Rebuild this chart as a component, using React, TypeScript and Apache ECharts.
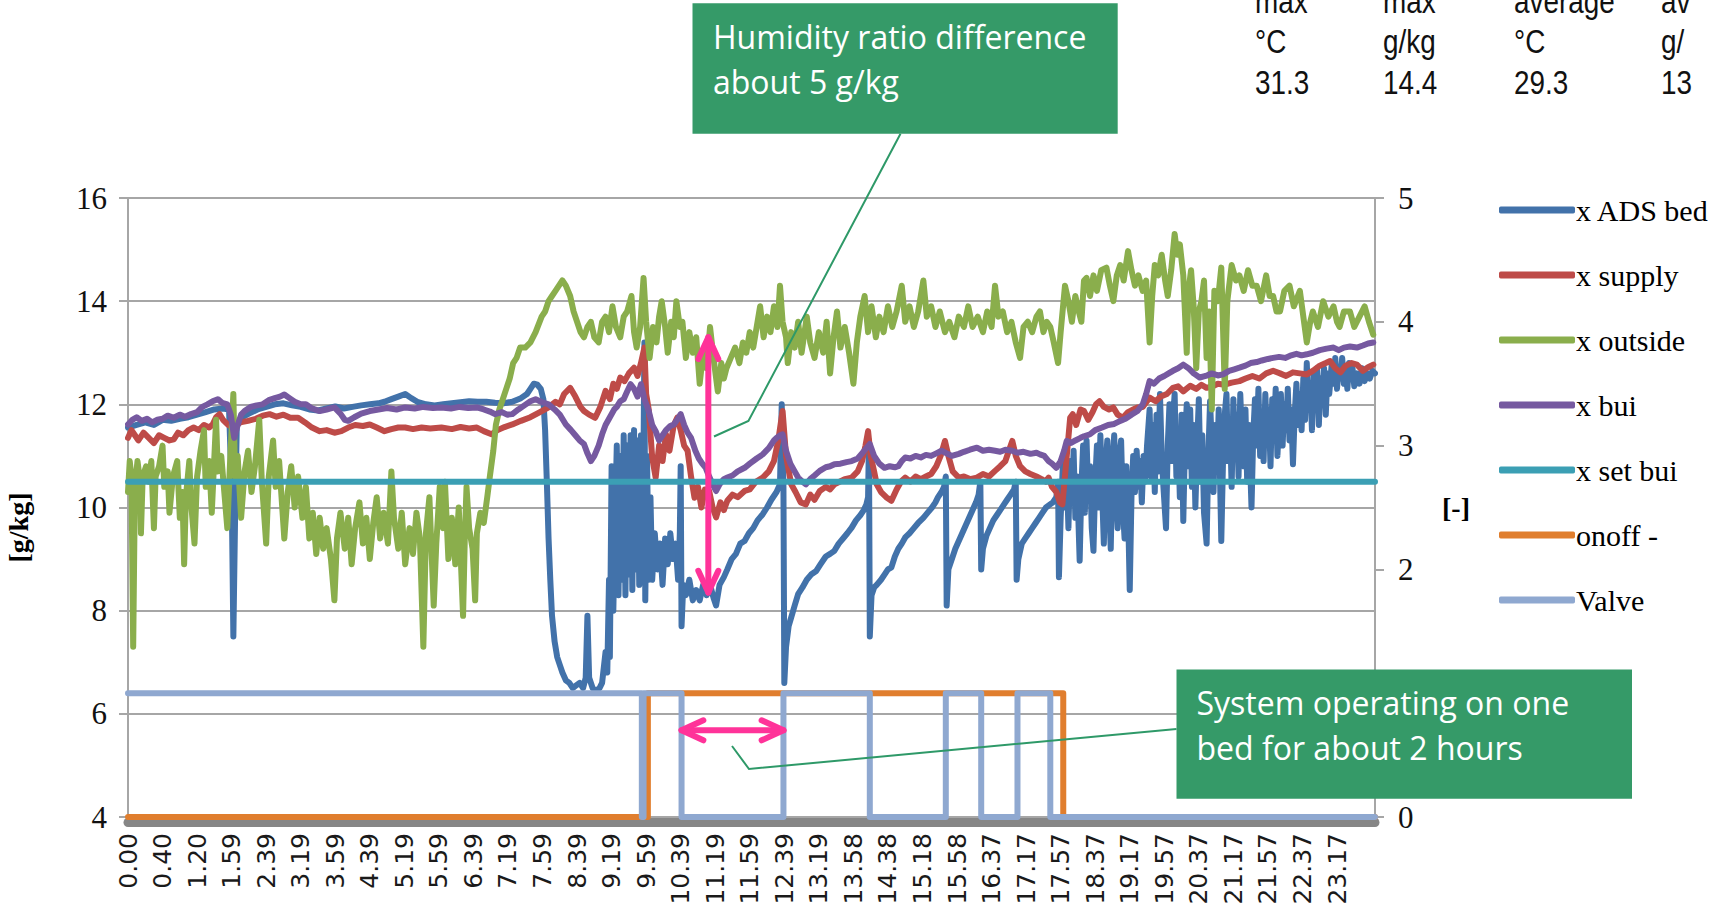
import React, { useEffect, useRef } from 'react';
import * as echarts from 'echarts';

// ---------- data (x = row index of the logged day, one row per minute) ----------
const TIME_LABELS = ['0.00','0.40','1.20','1.59','2.39','3.19','3.59','4.39','5.19','5.59','6.39','7.19','7.59','8.39','9.19','9.59','10.39','11.19','11.59','12.39','13.19','13.58','14.38','15.18','15.58','16.37','17.17','17.57','18.37','19.17','19.57','20.37','21.17','21.57','22.37','23.17'];
const LABEL_STEP = 40;
const ROW_MAX = 1444;

const SERIES_NAMES = ['x ADS bed','x supply','x outside','x bui','x set bui','onoff -','Valve'];
const SERIES_COLORS = ['#4272AA','#BE4B48','#8AAE4C','#7659A0','#3B9FB4','#E07E2E','#8FA8D0'];

const X_ADS_BED: [number, number][] = [[0,11.55],[10,11.6],[20,11.65],[30,11.6],[40,11.7],[50,11.68],[60,11.72],[70,11.75],[80,11.8],[90,11.85],[100,11.9],[110,11.92],[117,11.9],[120,10.4],[122,7.5],[124,9.8],[126,11.6],[132,11.75],[140,11.82],[150,11.9],[160,11.95],[170,12.0],[180,12.02],[190,11.98],[200,11.95],[210,11.9],[220,11.88],[230,11.92],[240,11.96],[250,11.92],[260,11.95],[270,11.98],[280,12.0],[290,12.02],[297,12.05],[305,12.1],[313,12.15],[321,12.2],[328,12.12],[335,12.05],[345,12.0],[355,11.98],[365,12.0],[375,12.02],[385,12.04],[395,12.06],[405,12.05],[415,12.05],[425,12.03],[435,12.02],[445,12.05],[455,12.12],[462,12.2],[466,12.3],[470,12.4],[474,12.38],[478,12.3],[481,12.1],[483,11.5],[485,10.5],[487,9.4],[489,8.6],[491,7.9],[494,7.4],[497,7.1],[500,6.95],[503,6.8],[507,6.65],[511,6.6],[515,6.5],[519,6.55],[523,6.6],[527,6.5],[530,6.7],[532,7.9],[534,6.7],[538,6.5],[542,6.45],[546,6.5],[549,6.6],[551,6.9],[553,7.2],[555,6.8],[557,8.6],[558,7.1],[560,10.8],[562,8.0],[564,9.7],[566,11.2],[568,8.3],[570,11.0],[572,8.6],[574,11.4],[576,8.3],[578,11.2],[580,8.7],[582,11.4],[584,8.4],[586,11.5],[588,8.8],[590,11.3],[592,8.5],[594,11.4],[596,9.0],[598,13.2],[599,8.2],[601,11.0],[603,8.6],[605,10.2],[607,8.6],[610,9.5],[613,8.8],[616,9.3],[619,8.5],[622,9.4],[625,8.9],[628,9.5],[631,9.0],[634,9.3],[637,8.6],[639,9.5],[640,10.8],[641,7.7],[643,8.5],[646,8.3],[650,8.6],[654,8.2],[658,8.4],[662,8.2],[666,8.5],[670,8.3],[674,8.5],[678,8.25],[681,8.1],[685,8.5],[690,8.65],[694,8.8],[699,9.0],[704,9.1],[709,9.3],[714,9.35],[719,9.5],[724,9.6],[729,9.75],[735,9.87],[740,10.0],[745,10.15],[751,10.3],[755,10.45],[757,12.0],[759,10.4],[760,6.6],[762,7.3],[765,7.7],[768,7.87],[772,8.1],[776,8.32],[781,8.45],[786,8.6],[791,8.7],[797,8.77],[802,8.9],[808,9.05],[813,9.1],[818,9.16],[823,9.3],[828,9.4],[833,9.5],[838,9.61],[843,9.75],[848,9.85],[852,9.95],[855,10.06],[857,10.2],[858,11.3],[859,7.5],[861,8.3],[864,8.45],[867,8.5],[872,8.6],[876,8.7],[880,8.8],[884,8.84],[888,9.05],[892,9.2],[896,9.3],[900,9.42],[905,9.5],[910,9.6],[915,9.7],[921,9.8],[926,9.9],[931,10.0],[935,10.1],[938,10.2],[942,10.3],[945,10.4],[947,10.6],[948,8.1],[950,8.8],[954,9.0],[958,9.2],[962,9.35],[966,9.5],[970,9.65],[974,9.8],[978,9.95],[982,10.1],[985,10.25],[987,10.5],[988,8.8],[990,9.2],[994,9.45],[998,9.6],[1002,9.75],[1006,9.85],[1010,9.95],[1014,10.05],[1018,10.15],[1022,10.25],[1026,10.35],[1028,10.5],[1029,8.6],[1031,9.0],[1035,9.3],[1039,9.4],[1043,9.5],[1047,9.6],[1051,9.7],[1055,9.8],[1059,9.9],[1063,10.0],[1067,10.05],[1071,10.1],[1075,10.2],[1077,10.5],[1078,8.65],[1080,9.8],[1083,11.0],[1085,10.0],[1087,10.7],[1089,9.6],[1091,10.9],[1093,10.1],[1095,11.1],[1097,9.8],[1099,10.6],[1102,8.97],[1104,10.4],[1106,11.2],[1108,9.9],[1110,11.3],[1112,10.2],[1114,10.8],[1116,9.6],[1118,9.16],[1120,10.5],[1122,11.2],[1124,10.0],[1126,11.4],[1128,10.3],[1130,9.3],[1132,10.8],[1134,11.3],[1136,10.1],[1138,9.2],[1140,10.9],[1142,11.4],[1144,10.3],[1146,9.6],[1148,11.0],[1150,11.3],[1152,10.0],[1154,9.4],[1156,10.8],[1158,10.0],[1160,8.4],[1162,10.2],[1164,11.0],[1166,10.3],[1168,11.1],[1170,10.4],[1172,10.9],[1174,10.1],[1176,11.0],[1178,10.5],[1180,11.2],[1183,11.9],[1185,10.6],[1187,11.6],[1189,10.3],[1191,11.8],[1193,10.7],[1195,12.2],[1197,11.0],[1199,10.4],[1202,9.6],[1204,11.2],[1206,12.0],[1208,10.9],[1210,11.7],[1212,12.2],[1214,10.6],[1216,11.5],[1218,10.2],[1220,11.8],[1222,9.74],[1224,11.3],[1226,12.0],[1228,10.8],[1230,11.9],[1232,10.4],[1234,11.6],[1236,10.0],[1238,11.2],[1240,12.1],[1242,10.5],[1244,11.4],[1246,9.9],[1249,9.3],[1251,11.0],[1253,12.06],[1255,11.2],[1257,10.3],[1259,11.6],[1261,10.7],[1263,11.9],[1266,9.35],[1268,10.9],[1270,11.8],[1272,12.2],[1274,10.9],[1276,11.7],[1278,10.4],[1280,12.1],[1282,11.0],[1284,11.8],[1286,10.6],[1288,12.2],[1290,11.3],[1292,10.8],[1294,11.9],[1296,10.5],[1298,11.6],[1301,10.0],[1303,11.4],[1305,12.1],[1307,11.2],[1309,12.3],[1311,11.0],[1313,11.8],[1315,10.9],[1317,12.2],[1319,11.3],[1321,11.9],[1323,10.8],[1325,12.1],[1327,11.4],[1329,12.3],[1331,11.0],[1333,11.7],[1335,12.2],[1337,11.2],[1339,12.0],[1341,11.5],[1343,12.3],[1345,11.3],[1347,11.9],[1349,10.84],[1351,11.8],[1353,12.4],[1355,11.6],[1357,12.2],[1359,11.5],[1361,12.5],[1363,11.7],[1365,12.8],[1367,11.9],[1369,12.4],[1371,11.5],[1373,12.6],[1375,12.0],[1377,12.7],[1379,11.6],[1381,12.5],[1383,12.1],[1385,12.7],[1387,11.8],[1389,12.6],[1391,12.2],[1394,12.8],[1396,12.4],[1398,12.9],[1400,12.3],[1402,12.7],[1404,12.5],[1406,12.9],[1408,12.4],[1410,12.6],[1412,12.3],[1414,12.8],[1416,12.5],[1418,12.7],[1420,12.35],[1423,12.6],[1426,12.4],[1429,12.7],[1432,12.45],[1435,12.6],[1438,12.5],[1441,12.65],[1444,12.6]];

const X_SUPPLY: [number, number][] = [[0,11.35],[4,11.5],[8,11.4],[12,11.3],[18,11.45],[24,11.35],[30,11.25],[36,11.4],[42,11.35],[48,11.3],[53,11.32],[58,11.45],[64,11.4],[70,11.5],[76,11.55],[82,11.5],[88,11.6],[94,11.55],[98,11.61],[102,11.75],[106,11.81],[110,11.7],[116,11.6],[123,11.55],[130,11.65],[139,11.68],[148,11.72],[156,11.78],[164,11.81],[172,11.76],[180,11.8],[188,11.74],[197,11.74],[205,11.65],[213,11.55],[222,11.48],[230,11.5],[239,11.45],[247,11.48],[255,11.55],[263,11.6],[272,11.58],[280,11.61],[288,11.55],[297,11.48],[305,11.52],[313,11.55],[321,11.55],[330,11.52],[340,11.55],[350,11.53],[363,11.55],[375,11.52],[385,11.56],[395,11.53],[404,11.55],[412,11.48],[421,11.42],[428,11.5],[436,11.56],[445,11.61],[455,11.68],[466,11.75],[477,11.85],[487,11.94],[495,12.05],[500,12.0],[505,12.2],[512,12.32],[518,12.15],[524,11.95],[528,11.87],[534,11.8],[541,11.74],[547,11.95],[553,12.26],[558,12.1],[562,12.4],[566,12.3],[570,12.52],[575,12.45],[580,12.6],[586,12.71],[590,12.55],[594,12.8],[598,13.1],[600,12.2],[603,11.9],[607,10.97],[611,10.58],[615,11.2],[619,10.9],[623,11.42],[627,11.1],[632,11.6],[636,11.74],[640,11.5],[644,11.2],[648,11.1],[652,10.6],[656,10.19],[660,10.4],[664,10.0],[668,10.35],[673,10.32],[677,10.0],[681,9.81],[686,10.1],[690,9.95],[694,10.13],[700,10.25],[706,10.2],[714,10.32],[720,10.35],[727,10.5],[735,10.58],[742,10.7],[748,10.9],[753,11.3],[758,11.87],[762,11.0],[768,10.45],[773,10.3],[779,10.1],[785,10.06],[790,10.25],[795,10.15],[801,10.32],[808,10.4],[813,10.35],[818,10.45],[824,10.5],[830,10.55],[838,10.58],[845,10.7],[850,10.9],[854,11.2],[857,11.48],[860,11.0],[864,10.7],[867,10.45],[872,10.3],[878,10.2],[884,10.13],[890,10.35],[895,10.5],[900,10.58],[906,10.5],[912,10.6],[918,10.55],[924,10.6],[930,10.65],[936,10.8],[941,11.0],[946,11.29],[950,11.0],[955,10.7],[962,10.58],[968,10.6],[975,10.55],[983,10.58],[990,10.65],[997,10.6],[1004,10.71],[1010,10.8],[1016,10.9],[1020,11.1],[1024,11.29],[1028,11.0],[1033,10.8],[1039,10.7],[1045,10.65],[1052,10.6],[1058,10.55],[1063,10.5],[1066,10.58],[1070,10.4],[1075,10.3],[1079,10.1],[1082,10.06],[1086,10.8],[1091,11.74],[1094,11.81],[1098,11.6],[1103,11.9],[1107,11.87],[1112,11.7],[1117,11.85],[1121,12.0],[1125,12.06],[1130,11.95],[1136,11.9],[1141,11.94],[1146,11.8],[1152,11.74],[1158,11.85],[1164,11.9],[1169,11.94],[1175,11.95],[1183,12.13],[1190,12.06],[1196,12.15],[1203,12.2],[1210,12.32],[1216,12.35],[1222,12.25],[1230,12.36],[1237,12.3],[1243,12.38],[1249,12.32],[1256,12.35],[1262,12.4],[1270,12.38],[1278,12.42],[1287,12.45],[1294,12.5],[1302,12.55],[1310,12.5],[1318,12.6],[1326,12.65],[1334,12.6],[1341,12.55],[1349,12.62],[1357,12.6],[1365,12.58],[1372,12.65],[1380,12.75],[1387,12.8],[1392,12.84],[1398,12.7],[1404,12.62],[1410,12.75],[1417,12.8],[1423,12.77],[1430,12.65],[1436,12.72],[1442,12.77]];

const X_OUTSIDE: [number, number][] = [[0,10.3],[2,10.9],[4,10.6],[6,7.3],[8,10.4],[11,10.9],[14,10.5],[15,9.5],[17,10.6],[21,10.8],[24,10.5],[27,10.9],[30,9.6],[32,10.6],[36,10.8],[40,11.2],[42,10.4],[46,10.7],[48,9.9],[52,10.6],[57,10.9],[60,9.8],[63,10.3],[65,8.9],[67,10.2],[71,10.9],[73,10.1],[77,9.3],[80,10.6],[84,11.1],[88,11.5],[90,10.4],[94,10.9],[97,9.9],[102,11.7],[104,10.7],[108,11.0],[112,10.2],[115,9.6],[118,10.8],[122,12.2],[124,10.6],[127,11.0],[131,9.8],[135,10.7],[139,11.1],[143,10.3],[147,10.8],[152,11.7],[155,10.5],[160,9.3],[163,10.6],[168,11.3],[171,10.4],[175,10.9],[181,9.4],[185,10.3],[189,10.8],[193,10.0],[197,10.6],[202,9.8],[206,10.4],[210,9.4],[214,9.9],[218,9.1],[222,9.8],[226,9.2],[230,9.6],[235,9.0],[239,8.2],[242,9.4],[246,9.9],[251,9.2],[255,9.8],[259,8.9],[263,9.6],[268,10.1],[272,9.3],[276,9.8],[280,9.0],[284,9.7],[288,10.2],[292,9.4],[296,9.9],[301,9.3],[305,10.7],[308,9.8],[313,9.2],[317,9.9],[321,8.9],[326,9.6],[330,9.1],[334,9.9],[338,9.4],[342,7.3],[345,9.5],[349,10.2],[354,8.1],[357,9.3],[361,10.4],[365,9.6],[367,10.5],[371,9.0],[375,9.8],[379,8.9],[383,10.0],[388,7.9],[390,9.4],[392,10.4],[395,9.6],[399,9.2],[402,8.2],[404,9.5],[408,9.9],[412,9.7],[416,10.2],[419,10.6],[423,11.1],[426,11.6],[430,11.9],[434,12.1],[438,12.3],[442,12.5],[446,12.8],[450,12.9],[454,13.1],[460,13.1],[466,13.2],[472,13.4],[479,13.7],[483,13.8],[487,14.0],[491,14.1],[495,14.2],[499,14.3],[503,14.4],[507,14.3],[512,14.1],[516,13.8],[520,13.6],[524,13.4],[528,13.3],[532,13.5],[536,13.6],[540,13.3],[545,13.2],[549,13.6],[553,13.7],[557,13.4],[561,13.9],[565,13.5],[570,13.3],[574,13.7],[578,13.8],[583,14.1],[586,13.4],[589,13.1],[593,13.5],[597,14.45],[600,13.6],[604,12.9],[608,13.5],[612,13.2],[615,13.7],[618,14.0],[622,13.5],[625,13.0],[629,13.6],[632,13.3],[635,14.0],[639,13.5],[642,13.6],[646,12.9],[650,13.4],[654,13.0],[658,13.3],[662,12.4],[666,13.0],[670,12.7],[674,13.5],[678,12.9],[683,12.25],[687,12.8],[690,12.5],[693,12.7],[698,12.9],[703,13.1],[708,12.8],[712,13.2],[716,13.0],[720,13.4],[724,13.1],[728,13.5],[732,13.9],[736,13.3],[740,13.7],[744,13.4],[748,13.9],[752,13.5],[755,14.3],[758,13.6],[762,13.3],[764,12.8],[768,13.4],[772,13.1],[776,13.6],[780,13.0],[786,13.7],[790,13.2],[795,12.9],[800,13.4],[805,13.0],[809,13.6],[813,12.6],[817,13.3],[821,13.8],[825,13.1],[830,13.5],[835,13.0],[840,12.4],[844,13.2],[848,13.7],[853,14.1],[857,13.4],[861,13.9],[866,13.3],[870,13.7],[875,13.4],[880,13.9],[885,13.5],[890,13.8],[896,14.3],[900,13.6],[905,13.9],[910,13.5],[915,13.8],[921,14.4],[925,13.7],[930,13.9],[935,13.5],[940,13.8],[946,13.4],[951,13.6],[957,13.3],[962,13.7],[968,13.5],[973,13.9],[978,13.5],[984,13.7],[990,13.4],[995,13.8],[1000,13.5],[1004,14.3],[1008,13.7],[1013,13.8],[1018,13.4],[1023,13.6],[1028,13.2],[1033,12.9],[1037,13.5],[1042,13.6],[1047,13.4],[1052,13.7],[1056,13.8],[1060,13.4],[1064,13.6],[1068,13.5],[1072,13.2],[1077,12.8],[1080,13.4],[1085,14.3],[1089,14.0],[1093,13.6],[1097,14.1],[1101,13.8],[1104,13.6],[1107,14.4],[1110,14.45],[1114,14.1],[1118,14.5],[1122,14.2],[1127,14.6],[1133,14.65],[1137,14.3],[1141,14.0],[1145,14.5],[1149,14.7],[1153,14.4],[1158,14.97],[1162,14.6],[1166,14.3],[1170,14.5],[1175,14.2],[1179,14.4],[1183,13.2],[1186,14.1],[1189,14.7],[1193,14.5],[1197,14.9],[1201,14.4],[1204,14.1],[1208,14.6],[1212,15.3],[1215,14.9],[1218,15.1],[1222,14.5],[1226,13.0],[1228,14.2],[1231,14.6],[1234,13.9],[1237,12.7],[1240,13.8],[1243,14.0],[1246,14.4],[1249,12.9],[1252,13.8],[1255,11.9],[1258,14.2],[1262,14.0],[1266,14.65],[1270,12.3],[1273,14.0],[1278,14.7],[1283,14.4],[1287,14.5],[1292,14.2],[1297,14.6],[1302,14.3],[1307,14.3],[1312,14.0],[1318,14.5],[1322,14.1],[1326,14.1],[1330,13.8],[1334,13.8],[1339,14.2],[1345,14.3],[1350,13.9],[1357,14.2],[1361,13.7],[1365,13.2],[1369,13.6],[1372,13.8],[1378,13.5],[1384,14.0],[1390,13.7],[1396,13.9],[1400,13.6],[1403,13.5],[1408,13.8],[1415,13.8],[1420,13.5],[1426,13.7],[1432,13.9],[1437,13.6],[1442,13.35]];

const X_BUI: [number, number][] = [[0,11.61],[5,11.7],[10,11.75],[16,11.68],[22,11.72],[28,11.65],[34,11.7],[40,11.72],[46,11.78],[53,11.74],[60,11.8],[66,11.76],[73,11.81],[80,11.85],[86,11.95],[92,12.0],[98,12.06],[104,12.1],[109,12.03],[115,12.0],[119,11.8],[123,11.35],[127,11.6],[131,11.8],[135,11.87],[142,11.95],[149,11.98],[156,12.0],[163,12.08],[170,12.12],[176,12.15],[181,12.19],[187,12.12],[193,12.05],[200,12.0],[206,12.0],[213,11.92],[222,11.87],[230,11.9],[239,11.94],[246,11.82],[251,11.7],[255,11.68],[262,11.75],[270,11.82],[280,11.87],[290,11.9],[300,11.93],[311,11.9],[321,11.94],[332,11.92],[342,11.95],[353,11.93],[363,11.94],[374,11.92],[384,11.95],[394,11.93],[404,11.94],[412,11.9],[419,11.86],[425,11.81],[433,11.85],[439,11.8],[445,11.81],[452,11.9],[459,11.98],[466,12.06],[472,12.1],[478,12.05],[487,12.0],[494,11.9],[500,11.8],[507,11.61],[513,11.5],[518,11.4],[523,11.3],[528,11.23],[532,11.05],[536,10.9],[540,11.0],[545,11.2],[549,11.42],[553,11.6],[558,11.75],[563,11.9],[566,11.95],[570,12.06],[574,12.1],[578,12.25],[582,12.39],[586,12.3],[590,12.15],[594,12.39],[598,12.1],[603,11.87],[607,11.6],[611,11.48],[615,11.3],[619,11.4],[623,11.5],[628,11.58],[632,11.61],[636,11.7],[640,11.81],[644,11.6],[648,11.45],[652,11.35],[657,11.1],[661,10.95],[665,10.85],[669,10.77],[673,10.6],[677,10.45],[681,10.32],[685,10.45],[690,10.55],[694,10.58],[700,10.62],[706,10.7],[714,10.77],[720,10.85],[728,10.95],[735,11.03],[742,11.15],[748,11.3],[751,11.35],[755,11.4],[758,11.42],[762,11.1],[767,10.85],[772,10.7],[776,10.58],[781,10.5],[785,10.45],[790,10.55],[795,10.62],[801,10.71],[808,10.78],[813,10.8],[818,10.84],[825,10.85],[832,10.88],[838,10.9],[845,10.95],[850,11.05],[855,11.15],[859,11.23],[864,11.0],[870,10.85],[876,10.77],[882,10.8],[888,10.78],[892,10.8],[896,10.9],[900,10.97],[906,10.95],[912,11.0],[918,10.97],[924,11.02],[930,11.0],[936,11.05],[942,11.1],[948,11.05],[954,11.0],[962,11.04],[968,11.08],[975,11.12],[983,11.16],[990,11.1],[997,11.12],[1004,11.1],[1010,11.08],[1016,11.12],[1024,11.1],[1030,11.06],[1037,11.08],[1045,11.04],[1052,11.06],[1056,11.03],[1061,11.0],[1066,10.9],[1070,10.85],[1075,10.77],[1080,10.9],[1084,11.1],[1087,11.29],[1092,11.25],[1097,11.3],[1103,11.35],[1107,11.38],[1114,11.42],[1120,11.5],[1128,11.55],[1135,11.6],[1142,11.62],[1149,11.68],[1155,11.72],[1162,11.8],[1169,11.87],[1175,12.0],[1179,12.2],[1183,12.45],[1188,12.4],[1194,12.5],[1200,12.55],[1205,12.6],[1210,12.65],[1216,12.7],[1222,12.77],[1228,12.7],[1234,12.6],[1241,12.52],[1248,12.55],[1255,12.6],[1262,12.56],[1268,12.58],[1275,12.65],[1281,12.68],[1287,12.71],[1294,12.75],[1300,12.8],[1307,12.82],[1313,12.85],[1320,12.88],[1326,12.9],[1333,12.92],[1340,12.9],[1347,12.95],[1353,12.98],[1359,12.95],[1365,12.97],[1372,13.0],[1380,13.05],[1388,13.08],[1396,13.1],[1402,13.05],[1408,13.1],[1415,13.12],[1423,13.1],[1430,13.14],[1436,13.18],[1442,13.2]];

const X_SET_BUI: [number, number][] = [[0,10.5],[1444,10.5]];
// step signals on the secondary axis: value holds from this row until the next one
const ONOFF: [number, number][] = [[0,0],[602,1],[1083,0],[1444,0]];
const VALVE: [number, number][] = [[0,1],[595,0],[597,1],[641,0],[759,1],[859,0],[947,1],[988,0],[1030,1],[1068,0],[1444,0]];

// annotations (data coordinates)
const DIFF_ARROW = { row: 672, top: 13.3, bottom: 8.35 };
const HOURS_ARROW = { from: 641, to: 759, level: 0.7 };

const TABLE_COLUMNS: string[][] = [['max','°C','31.3'],['max','g/kg','14.4'],['average','°C','29.3'],['av','g/','13']];
const NOTE_DIFF = ['Humidity ratio difference','about 5 g/kg'];
const NOTE_HOURS = ['System operating on one','bed for about 2 hours'];

const BOX_GREEN = '#359A68';
const PINK = '#FF3399';
const CONNECTOR = '#2E9968';

function lineSeries(i: number, data: [number, number][], yAxisIndex = 0, extra: any = {}) {
  return {
    name: SERIES_NAMES[i], type: 'line', data, yAxisIndex,
    symbol: 'none', showSymbol: false, silent: true,
    emphasis: { disabled: true },
    lineStyle: { color: SERIES_COLORS[i], width: 6, cap: 'round', join: 'round' },
    itemStyle: { color: SERIES_COLORS[i] },
    ...extra,
  };
}

function arrow(x1: number, y1: number, x2: number, y2: number) {
  const st = { stroke: PINK, lineWidth: 6, lineCap: 'round', lineJoin: 'round', fill: null };
  const head = (x: number, y: number, a: number) => {
    const L = 24, W = 0.43;
    return {
      type: 'polyline', z: 100, silent: true,
      shape: { points: [[x - L * Math.cos(a - W), y - L * Math.sin(a - W)], [x, y], [x - L * Math.cos(a + W), y - L * Math.sin(a + W)]] },
      style: st,
    };
  };
  const ang = Math.atan2(y2 - y1, x2 - x1);
  return [
    { type: 'line', z: 100, silent: true, shape: { x1, y1, x2, y2 }, style: st },
    head(x2, y2, ang),
    head(x1, y1, ang + Math.PI),
  ];
}

export default function App() {
  const ref = useRef<HTMLDivElement>(null);
  useEffect(() => {
    const chart = echarts.init(ref.current!, null, { renderer: 'svg' });
    const serif = 'Liberation Serif';
    const option: any = {
      animation: false,
      backgroundColor: '#ffffff',
      grid: { left: 128, top: 198, width: 1247, height: 619, containLabel: false, outerBoundsMode: 'none' },
      legend: {
        orient: 'vertical', left: 1494, top: 190, itemWidth: 76, itemHeight: 7, itemGap: 35,
        icon: 'roundRect', selectedMode: false,
        textStyle: { fontFamily: serif, fontSize: 30, lineHeight: 30, color: '#000', padding: [0, 0, 0, -4] },
        data: SERIES_NAMES,
      },
      xAxis: {
        type: 'value', min: 0, max: ROW_MAX, interval: LABEL_STEP, offset: 5,
        axisLine: { show: true, onZero: false, lineStyle: { color: '#868686', width: 9 } },
        axisTick: { show: false }, splitLine: { show: false },
        axisLabel: {
          rotate: 90, margin: 11, fontFamily: 'DejaVu Sans', fontSize: 25, color: '#1a1a1a',
          formatter: (v: number) => TIME_LABELS[Math.round(v / LABEL_STEP)] ?? '',
        },
      },
      yAxis: [
        {
          type: 'value', position: 'left', min: 4, max: 16, interval: 2,
          name: '[g/kg]', nameLocation: 'middle', nameGap: 96,
          nameTextStyle: { fontFamily: serif, fontWeight: 'bold', fontSize: 28, color: '#000', padding: [0, 40, 0, 0] },
          axisLine: { show: true, lineStyle: { color: '#A6A6A6', width: 2 } },
          axisTick: { show: true, length: 9, lineStyle: { color: '#A6A6A6', width: 2 } },
          axisLabel: { margin: 21, fontFamily: serif, fontSize: 31, color: '#111' },
          splitLine: { show: true, lineStyle: { color: '#A6A6A6', width: 2 } },
        },
        {
          type: 'value', position: 'right', min: 0, max: 5, interval: 1,
          name: '[-]', nameLocation: 'middle', nameGap: 67, nameRotate: 0,
          nameTextStyle: { fontFamily: serif, fontWeight: 'bold', fontSize: 28, color: '#000', padding: [34, 0, 0, 0] },
          axisLine: { show: true, lineStyle: { color: '#A6A6A6', width: 2 } },
          axisTick: { show: true, length: 9, lineStyle: { color: '#A6A6A6', width: 2 } },
          // the "1" label sits behind the callout box in the original
          axisLabel: { margin: 23, fontFamily: serif, fontSize: 31, color: '#111', formatter: (v: number) => (v === 1 ? '' : String(v)) },
          splitLine: { show: false },
        },
      ],
      series: [
        lineSeries(0, X_ADS_BED),
        lineSeries(1, X_SUPPLY),
        lineSeries(2, X_OUTSIDE),
        lineSeries(3, X_BUI),
        lineSeries(4, X_SET_BUI),
        lineSeries(5, ONOFF, 1, { step: 'end' }),
        lineSeries(6, VALVE, 1, { step: 'end' }),
      ],
    };
    chart.setOption(option);

    const left = (x: number, y: number) => chart.convertToPixel({ seriesIndex: 0 }, [x, y]) as number[];
    const right = (x: number, y: number) => chart.convertToPixel({ seriesIndex: 6 }, [x, y]) as number[];
    const a1 = left(DIFF_ARROW.row, DIFF_ARROW.top);
    const a2 = left(DIFF_ARROW.row, DIFF_ARROW.bottom);
    const h1 = right(HOURS_ARROW.from, HOURS_ARROW.level);
    const h2 = right(HOURS_ARROW.to, HOURS_ARROW.level);

    const txt = (text: string, x: number, y: number, size: number, family: string, fill: string, scaleX = 1) => ({
      type: 'text', x, y, scaleX, z: 101, silent: true,
      style: { text, x: 0, y: 0, fill, fontSize: size, fontFamily: family, align: 'left', verticalAlign: 'middle' },
    });

    const elements: any[] = [];
    // statistics table (top right)
    const colX = [1255, 1383, 1514, 1661];
    const rowY = [2, 42, 83];
    TABLE_COLUMNS.forEach((col, ci) => col.forEach((t, ri) => elements.push(txt(t, colX[ci], rowY[ri], 34, 'Liberation Sans', '#111', 0.82))));
    // callout 1
    elements.push({ type: 'polyline', z: 99, silent: true, shape: { points: [[900.5, 133.7], [748.4, 421], [714, 436.5]] }, style: { stroke: CONNECTOR, lineWidth: 2, fill: null } });
    elements.push({ type: 'rect', z: 100, silent: true, shape: { x: 692.5, y: 3.3, width: 425.2, height: 130.4 }, style: { fill: BOX_GREEN } });
    elements.push(txt(NOTE_DIFF[0], 713, 36, 32, 'Open Sans', '#fff'));
    elements.push(txt(NOTE_DIFF[1], 713, 81, 32, 'Open Sans', '#fff'));
    // callout 2
    elements.push({ type: 'polyline', z: 99, silent: true, shape: { points: [[1176.5, 729], [749, 769], [732, 746]] }, style: { stroke: CONNECTOR, lineWidth: 2, fill: null } });
    elements.push({ type: 'rect', z: 100, silent: true, shape: { x: 1176.5, y: 669.5, width: 455.5, height: 129.3 }, style: { fill: BOX_GREEN } });
    elements.push(txt(NOTE_HOURS[0], 1196.5, 702, 32, 'Open Sans', '#fff'));
    elements.push(txt(NOTE_HOURS[1], 1196.5, 747, 32, 'Open Sans', '#fff'));
    // pink arrows
    elements.push(...arrow(a1[0], a1[1], a2[0], a2[1]));
    elements.push(...arrow(h1[0], h1[1], h2[0], h2[1]));

    chart.setOption({ graphic: { elements } });
    return () => chart.dispose();
  }, []);
  return <div ref={ref} style={{ position: 'absolute', left: 0, top: 0, width: 1718, height: 907, background: '#fff' }} />;
}
